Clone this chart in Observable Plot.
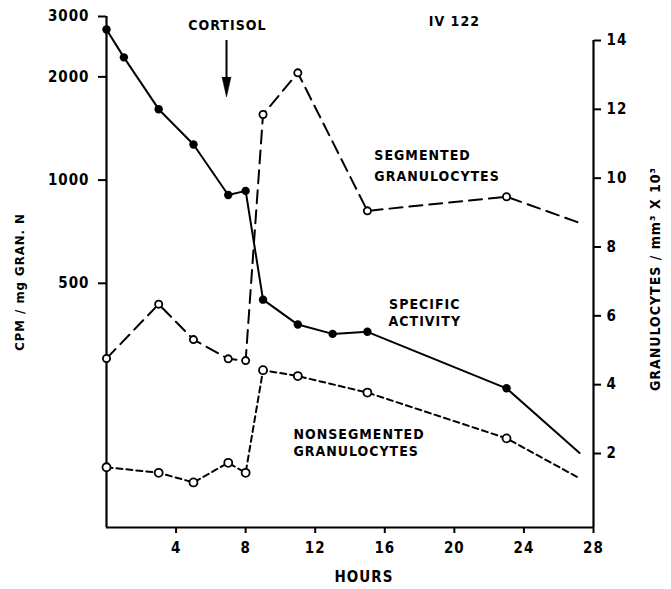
<!DOCTYPE html>
<html>
<head>
<meta charset="utf-8">
<script src="https://cdn.jsdelivr.net/npm/d3@7"></script>
<script src="https://cdn.jsdelivr.net/npm/@observablehq/plot@0.6"></script>
<style>
  html, body { margin: 0; padding: 0; background: #fff; }
  #chart { position: relative; width: 671px; height: 589px; }
  #chart svg { position: absolute; left: 0; top: 0; }
</style>
</head>
<body>
<div id="chart"></div>
<script>
// ---- data ----
const activityHours = [0, 1, 3, 5, 7, 8, 9, 11, 13, 15, 23, 27.2];
const activityCPM   = [2750, 2280, 1610, 1270, 905, 930, 448, 379, 356, 361, 247, 160];

const segHours = [0, 3, 5, 7, 8, 9, 11, 15, 23, 27.2];
const segCount = [4.76, 6.34, 5.31, 4.75, 4.70, 11.85, 13.06, 9.05, 9.46, 8.70];

const nonsegHours = [0, 3, 5, 7, 8, 9, 11, 15, 23, 27.2];
const nonsegCount = [1.60, 1.44, 1.16, 1.73, 1.44, 4.42, 4.25, 3.77, 2.44, 1.28];

const xTicks = [4, 8, 12, 16, 20, 24, 28];
const leftTicks = [500, 1000, 2000, 3000];
const rightTicks = [2, 4, 6, 8, 10, 12, 14];

// ---- tables ----
const activity = activityHours.map((h, i) => ({h, v: activityCPM[i]}));
const seg = segHours.map((h, i) => ({h, v: segCount[i]}));
const nonseg = nonsegHours.map((h, i) => ({h, v: nonsegCount[i]}));
const markers = arr => arr.slice(0, -1); // last point of each curve has no marker

const font = "'DejaVu Sans Condensed', 'DejaVu Sans', sans-serif";
const baseStyle = {fontFamily: font, fontSize: "15px", fontWeight: "bold", background: "transparent", letterSpacing: "1px", color: "#000"};
const annStyle = {fontSize: 14, style: "letter-spacing:0.8px"};

// Left (log) scale: specific activity, x axis
const p1 = Plot.plot({
  width: 671, height: 589,
  marginLeft: 106, marginRight: 78, marginTop: 16, marginBottom: 62,
  style: baseStyle,
  x: {domain: [0, 28]},
  y: {type: "log", domain: [97, 3000]},
  marks: [
    Plot.axisX({ticks: xTicks, tickSize: 6, tickPadding: 9, strokeWidth: 2, label: null, tickFormat: d => String(d)}),
    Plot.axisY({ticks: leftTicks, tickSize: 8, tickPadding: 9, strokeWidth: 2, label: null, tickFormat: d => String(d)}),
    Plot.ruleX([0], {strokeWidth: 2.2}),
    Plot.ruleY([97], {strokeWidth: 2.2}),
    Plot.line(activity, {x: "h", y: "v", stroke: "#000", strokeWidth: 2}),
    Plot.dot(markers(activity), {x: "h", y: "v", r: 4.2, fill: "#000", stroke: "none"}),
    Plot.text(["CPM / mg GRAN. N"], {frameAnchor: "left", textAnchor: "middle", lineAnchor: "middle", rotate: -90, dx: -87, dy: 10, fontSize: 13}),
    Plot.text(["HOURS"], {frameAnchor: "bottom", textAnchor: "middle", lineAnchor: "middle", dx: 14, dy: 50, fontSize: 15})
  ]
});

// Right (linear) scale: granulocyte counts
const p2 = Plot.plot({
  width: 671, height: 589,
  marginLeft: 106, marginRight: 78, marginTop: 40, marginBottom: 62,
  style: baseStyle,
  x: {domain: [0, 28], axis: null},
  y: {domain: [-0.15, 14], axis: null},
  marks: [
    Plot.axisY({anchor: "right", ticks: rightTicks, tickSize: 7, tickPadding: 6, strokeWidth: 2, label: null}),
    Plot.ruleX([28], {strokeWidth: 2.2}),
    Plot.line(seg, {x: "h", y: "v", stroke: "#000", strokeWidth: 2, strokeDasharray: "13,7"}),
    Plot.line(nonseg, {x: "h", y: "v", stroke: "#000", strokeWidth: 2, strokeDasharray: "6,4"}),
    Plot.dot(markers(seg), {x: "h", y: "v", r: 3.6, fill: "#fff", stroke: "#000", strokeWidth: 1.8}),
    Plot.dot(markers(nonseg), {x: "h", y: "v", r: 4, fill: "#fff", stroke: "#000", strokeWidth: 1.8}),
    // annotations
    Plot.text(["CORTISOL"], {x: 6.95, y: 14.44, ...annStyle}),
    Plot.ruleX([6.9], {y1: 14.0, y2: 12.7, strokeWidth: 2}),
    Plot.vector([6.9], {x: d => d, y: 12.36, length: 20, r: 4.5, rotate: 180, shape: "spike", anchor: "end", fill: "#000", stroke: "#000", strokeWidth: 0.5}),
    Plot.text(["IV 122"], {x: 20.0, y: 14.54, ...annStyle}),
    Plot.text(["SEGMENTED\nGRANULOCYTES"], {x: 15.4, y: 10.43, textAnchor: "start", lineHeight: 1.5, ...annStyle}),
    Plot.text(["SPECIFIC\nACTIVITY"], {x: 18.3, y: 6.11, lineHeight: 1.2, ...annStyle}),
    Plot.text(["NONSEGMENTED\nGRANULOCYTES"], {x: 10.75, y: 2.33, textAnchor: "start", lineHeight: 1.2, ...annStyle}),
    Plot.text(["GRANULOCYTES / mm³ X 10³"], {frameAnchor: "right", textAnchor: "middle", lineAnchor: "middle", rotate: -90, dx: 62, dy: -5, fontSize: 14})
  ]
});

const chart = document.getElementById("chart");
chart.appendChild(p1);
chart.appendChild(p2);
</script>
</body>
</html>
